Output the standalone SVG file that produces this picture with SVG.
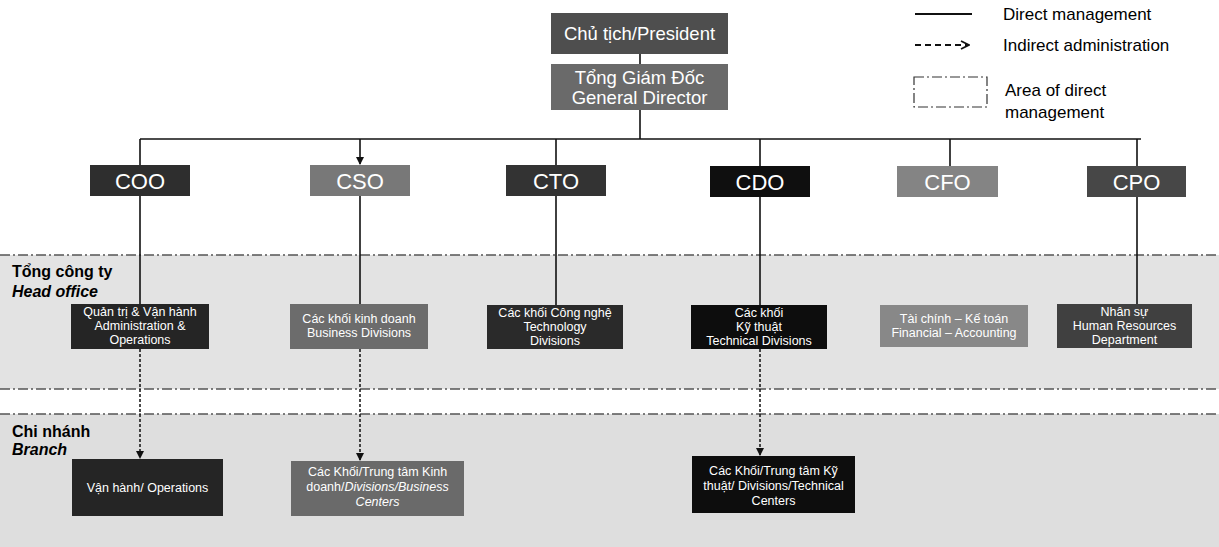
<svg xmlns="http://www.w3.org/2000/svg" width="1219" height="547" viewBox="0 0 1219 547">
<style>
.t{font-family:"Liberation Sans",Arial,sans-serif;fill:#fff;text-anchor:middle}
.big{font-size:22px}
.mid{font-size:18.5px}
.sm{font-size:12.5px}
.lbl{font-family:"Liberation Sans",Arial,sans-serif;font-size:16px;font-weight:bold;fill:#000}
.leg{font-family:"Liberation Sans",Arial,sans-serif;font-size:17px;fill:#000}
.solid{stroke:#111;stroke-width:1.6;fill:none}
.dash{stroke:#111;stroke-width:1.5;fill:none;stroke-dasharray:3,2}
.zone{stroke:#555;stroke-width:1.5;fill:none;stroke-dasharray:10,3,2,3}
</style>
<defs>
<marker id="ah" markerWidth="8" markerHeight="8" refX="7" refY="4" orient="auto" markerUnits="userSpaceOnUse">
<path d="M0,0 L8,4 L0,8 Z" fill="#111"/>
</marker>
<marker id="ao" markerWidth="10" markerHeight="10" refX="9" refY="5" orient="auto" markerUnits="userSpaceOnUse">
<path d="M1,1 L9,5 L1,9" fill="none" stroke="#111" stroke-width="1.8"/>
</marker>
</defs>
<rect width="1219" height="547" fill="#fff"/>
<g id="zones">
<rect x="0" y="255" width="1219" height="134" fill="#e3e3e3"/>
<rect x="0" y="414" width="1219" height="133" fill="#dedede"/>
<line class="zone" x1="0" y1="255" x2="1219" y2="255"/>
<line class="zone" x1="0" y1="389" x2="1219" y2="389"/>
<line class="zone" x1="0" y1="414" x2="1219" y2="414"/>
<text class="lbl" x="12" y="277">Tổng công ty</text>
<text class="lbl" x="12" y="297" font-style="italic">Head office</text>
<text class="lbl" x="12" y="437">Chi nhánh</text>
<text class="lbl" x="12" y="455" font-style="italic">Branch</text>
</g>
<g id="legend">
<line x1="915" y1="14" x2="972" y2="14" stroke="#111" stroke-width="2"/>
<text class="leg" x="1003" y="20">Direct management</text>
<line x1="915" y1="45" x2="969" y2="45" stroke="#111" stroke-width="2" style="stroke-dasharray:6,4" marker-end="url(#ao)"/>
<text class="leg" x="1003" y="51">Indirect administration</text>
<rect x="914" y="77" width="73" height="30" fill="none" stroke="#333" stroke-width="1.2" style="stroke-dasharray:10,3,2,3"/>
<text class="leg" x="1005" y="96">Area of direct</text>
<text class="leg" x="1005" y="118">management</text>
</g>
<g id="connectors">
<line class="solid" x1="640" y1="54" x2="640" y2="64"/>
<line class="solid" x1="640" y1="110" x2="640" y2="139"/>
<line class="solid" x1="140" y1="139" x2="1141" y2="139"/>
<line class="solid" x1="140" y1="139" x2="140" y2="165"/>
<line class="solid" x1="360" y1="139" x2="360" y2="164" marker-end="url(#ah)"/>
<line class="solid" x1="556" y1="139" x2="556" y2="165"/>
<line class="solid" x1="760" y1="139" x2="760" y2="166"/>
<line class="solid" x1="950" y1="139" x2="950" y2="166"/>
<line class="solid" x1="1137" y1="139" x2="1137" y2="166"/>
<line class="solid" x1="140" y1="196" x2="140" y2="304"/>
<line class="solid" x1="360" y1="196" x2="360" y2="304"/>
<line class="solid" x1="556" y1="196" x2="556" y2="305"/>
<line class="solid" x1="760" y1="197" x2="760" y2="305"/>
<line class="solid" x1="1137" y1="197" x2="1137" y2="304"/>
<line class="dash" x1="140" y1="349" x2="140" y2="458" marker-end="url(#ah)"/>
<line class="dash" x1="360" y1="349" x2="360" y2="460" marker-end="url(#ah)"/>
<line class="dash" x1="760" y1="349" x2="760" y2="455" marker-end="url(#ah)"/>
</g>
<g id="president"><rect x="551" y="13" width="177" height="41" fill="#4e4e4e"/><text class="t mid" x="639.5" y="40">Chủ tịch/President</text></g>
<g id="gd"><rect x="551" y="64" width="177" height="46" fill="#6a6a6a"/><text class="t mid" x="639.5" y="84">Tổng Giám Đốc</text><text class="t mid" x="639.5" y="104">General Director</text></g>
<g id="coo"><rect x="90" y="165" width="100" height="31" fill="#2e2e2e"/><text class="t big" x="140" y="189">COO</text></g>
<g id="cso"><rect x="310" y="165" width="100" height="31" fill="#787878"/><text class="t big" x="360" y="189">CSO</text></g>
<g id="cto"><rect x="506" y="165" width="100" height="31" fill="#333"/><text class="t big" x="556" y="189">CTO</text></g>
<g id="cdo"><rect x="710" y="166" width="100" height="31" fill="#0f0f0f"/><text class="t big" x="760" y="190">CDO</text></g>
<g id="cfo"><rect x="897" y="166" width="101" height="31" fill="#848484"/><text class="t big" x="947.5" y="190">CFO</text></g>
<g id="cpo"><rect x="1087" y="166" width="99" height="31" fill="#474747"/><text class="t big" x="1136.5" y="190">CPO</text></g>
<g id="admin"><rect x="71" y="304" width="138" height="45" fill="#252525"/><text class="t sm" x="140" y="316">Quản trị &amp; Vận hành</text><text class="t sm" x="140" y="330">Administration &amp;</text><text class="t sm" x="140" y="344">Operations</text></g>
<g id="business"><rect x="290" y="304" width="138" height="45" fill="#6c6c6c"/><text class="t sm" x="359" y="323">Các khối kinh doanh</text><text class="t sm" x="359" y="337">Business Divisions</text></g>
<g id="technology"><rect x="487" y="305" width="136" height="44" fill="#2a2a2a"/><text class="t sm" x="555" y="317">Các khối Công nghệ</text><text class="t sm" x="555" y="331">Technology</text><text class="t sm" x="555" y="345">Divisions</text></g>
<g id="technical"><rect x="691" y="305" width="136" height="44" fill="#0d0d0d"/><text class="t sm" x="759" y="317">Các khối</text><text class="t sm" x="759" y="331">Kỹ thuật</text><text class="t sm" x="759" y="345">Technical Divisions</text></g>
<g id="finance"><rect x="880" y="305" width="148" height="42" fill="#888"/><text class="t sm" x="954" y="323">Tài chính – Kế toán</text><text class="t sm" x="954" y="337">Financial – Accounting</text></g>
<g id="hr"><rect x="1057" y="304" width="135" height="44" fill="#404040"/><text class="t sm" x="1124.5" y="316">Nhân sự</text><text class="t sm" x="1124.5" y="330">Human Resources</text><text class="t sm" x="1124.5" y="344">Department</text></g>
<g id="ops-branch"><rect x="72" y="459" width="151" height="57" fill="#252525"/><text class="t sm" x="147.5" y="492">Vận hành/ Operations</text></g>
<g id="business-branch"><rect x="291" y="461" width="173" height="55" fill="#6a6a6a"/><text class="t sm" x="377.5" y="476">Các Khối/Trung tâm  Kinh</text><text class="t sm" x="377.5" y="491">doanh/<tspan font-style="italic">Divisions/Business</tspan></text><text class="t sm" x="377.5" y="506" font-style="italic">Centers</text></g>
<g id="technical-branch"><rect x="692" y="456" width="163" height="57" fill="#0d0d0d"/><text class="t sm" x="773.5" y="475">Các Khối/Trung tâm  Kỹ</text><text class="t sm" x="773.5" y="490">thuật/ Divisions/Technical</text><text class="t sm" x="773.5" y="505">Centers</text></g>
</svg>
